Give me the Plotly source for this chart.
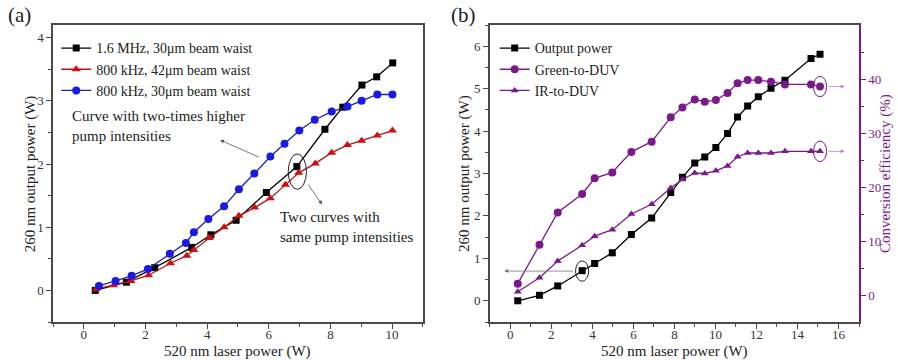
import plotly.graph_objects as go

# ---------------- Panel (a) data ----------------
a_black_x = [0.37, 1.38, 2.30, 3.50, 4.12, 4.94, 5.92, 6.91, 7.82, 8.40, 9.02, 9.50, 10.02]
a_black_y = [0.00, 0.13, 0.36, 0.68, 0.88, 1.11, 1.55, 1.96, 2.55, 2.90, 3.25, 3.38, 3.60]

a_red_x = [0.40, 0.97, 1.53, 2.10, 2.81, 3.34, 3.57, 4.07, 4.55, 5.03, 5.54, 6.05, 6.54,
           6.97, 7.51, 8.04, 8.55, 9.01, 9.52, 10.01]
a_red_y = [0.02, 0.08, 0.15, 0.24, 0.43, 0.55, 0.64, 0.83, 1.00, 1.18, 1.31, 1.46, 1.67,
           1.86, 2.01, 2.18, 2.30, 2.37, 2.45, 2.53]

a_blue_x = [0.49, 1.03, 1.55, 2.08, 2.79, 3.31, 3.57, 4.04, 4.55, 5.03, 5.53, 6.05, 6.51,
            6.99, 7.49, 8.04, 8.55, 9.01, 9.52, 10.01]
a_blue_y = [0.07, 0.15, 0.23, 0.34, 0.58, 0.75, 0.92, 1.13, 1.33, 1.60, 1.85, 2.12, 2.32,
            2.53, 2.70, 2.83, 2.91, 3.00, 3.10, 3.10]

a_names = ["1.6 MHz, 30\u03bcm beam waist", "800 kHz, 42\u03bcm beam waist", "800 kHz, 30\u03bcm beam waist"]

# ---------------- Panel (b) data ----------------
b_x = [0.36, 1.42, 2.31, 3.50, 4.11, 4.97, 5.90, 6.89, 7.82, 8.39, 8.99, 9.48, 10.02, 10.59,
       11.08, 11.57, 12.09, 12.71, 13.39, 14.66, 15.10]
b_power = [0.00, 0.13, 0.35, 0.71, 0.88, 1.13, 1.56, 1.95, 2.55, 2.91, 3.25, 3.39, 3.61, 3.94,
           4.33, 4.59, 4.81, 5.01, 5.20, 5.71, 5.81]
b_green = [2.1, 9.3, 15.3, 18.7, 21.6, 22.7, 26.5, 28.4, 32.9, 34.7, 36.2, 35.8, 36.1, 37.4,
           39.2, 39.8, 39.8, 39.5, 39.0, 39.0, 38.6]
b_ir = [0.6, 3.2, 6.3, 9.2, 10.9, 12.1, 15.0, 16.8, 19.8, 21.4, 22.6, 22.5, 23.0, 23.9,
        25.6, 26.3, 26.3, 26.3, 26.6, 26.6, 26.6]
b_names = ["Output power", "Green-to-DUV", "IR-to-DUV"]

a_xticks = [0, 2, 4, 6, 8, 10]
a_yticks = [0, 1, 2, 3, 4]
b_xticks = [0, 2, 4, 6, 8, 10, 12, 14, 16]
b_yticks = [0, 1, 2, 3, 4, 5, 6]
b_y2ticks = [0, 10, 20, 30, 40]

x_title = "520 nm laser power (W)"
y_title = "260 nm output power (W)"
y2_title = "Conversion efficiency (%)"

FONT = "Liberation Serif"
PURPLE = "#7a1a8a"
LPURPLE = "#b585c4"
FRAME = "#4a4a4a"
RED = "#d01010"
BLUE = "#1a1ae6"

fig = go.Figure()

# Panel (a)
fig.add_trace(go.Scatter(x=a_black_x, y=a_black_y, name=a_names[0], mode="lines+markers",
                         line=dict(color="black", width=1.3),
                         marker=dict(symbol="square", size=7, color="black"),
                         xaxis="x", yaxis="y", legend="legend"))
fig.add_trace(go.Scatter(x=a_red_x, y=a_red_y, name=a_names[1], mode="lines+markers",
                         line=dict(color="#b01818", width=1.3),
                         marker=dict(symbol="triangle-up", size=8, color=RED),
                         xaxis="x", yaxis="y", legend="legend"))
fig.add_trace(go.Scatter(x=a_blue_x, y=a_blue_y, name=a_names[2], mode="lines+markers",
                         line=dict(color="#2020b0", width=1.3),
                         marker=dict(symbol="circle", size=8, color=BLUE),
                         xaxis="x", yaxis="y", legend="legend"))

# Panel (b)
fig.add_trace(go.Scatter(x=b_x, y=b_power, name=b_names[0], mode="lines+markers",
                         line=dict(color="black", width=1.3),
                         marker=dict(symbol="square", size=7, color="black"),
                         xaxis="x2", yaxis="y2", legend="legend2"))
fig.add_trace(go.Scatter(x=b_x, y=b_green, name=b_names[1], mode="lines+markers",
                         line=dict(color=PURPLE, width=1.3),
                         marker=dict(symbol="circle", size=8, color=PURPLE),
                         xaxis="x2", yaxis="y3", legend="legend2"))
fig.add_trace(go.Scatter(x=b_x, y=b_ir, name=b_names[2], mode="lines+markers",
                         line=dict(color=PURPLE, width=1.3),
                         marker=dict(symbol="triangle-up", size=7, color=PURPLE),
                         xaxis="x2", yaxis="y3", legend="legend2"))

tickfont = dict(family=FONT, size=13, color="#333")

common_x = dict(showline=True, linecolor=FRAME, linewidth=1.5, ticks="outside", ticklen=5,
                tickcolor=FRAME, tickwidth=1, showgrid=False, zeroline=False, tickfont=tickfont,
                automargin=False, ticklabelstandoff=-5,
                minor=dict(ticks="outside", ticklen=3, tickcolor=FRAME, dtick=1))

fig.update_layout(
    width=898, height=360,
    margin=dict(l=53, r=39, t=25, b=38),
    paper_bgcolor="white", plot_bgcolor="white",
    font=dict(family=FONT, color="#222"),
    xaxis=dict(domain=[0, 0.459], range=[-1, 11], tickvals=a_xticks, mirror=True,
               anchor="y", **common_x),
    yaxis=dict(domain=[0, 1], range=[-0.5, 4.2], tickvals=a_yticks, mirror=True,
               showline=True, linecolor=FRAME, linewidth=1.5, ticks="outside", ticklen=5,
               tickcolor=FRAME, showgrid=False, zeroline=False, tickfont=tickfont, automargin=False,
               minor=dict(ticks="outside", ticklen=3, tickcolor=FRAME, dtick=0.5),
               anchor="x"),
    xaxis2=dict(domain=[0.542, 1], range=[-1, 17], tickvals=b_xticks, mirror=True,
                anchor="y2", **common_x),
    yaxis2=dict(domain=[0, 1], range=[-0.5, 6.5], tickvals=b_yticks,
                showline=True, linecolor=FRAME, linewidth=1.5, ticks="outside", ticklen=5,
                tickcolor=FRAME, showgrid=False, zeroline=False, tickfont=tickfont, automargin=False,
                minor=dict(ticks="outside", ticklen=3, tickcolor=FRAME, dtick=0.5),
                anchor="x2"),
    yaxis3=dict(range=[-5, 50], tickvals=b_y2ticks, overlaying="y2", side="right", anchor="x2",
                showline=True, linecolor=PURPLE, linewidth=1.5, ticks="outside", ticklen=5,
                tickcolor=PURPLE, showgrid=False, zeroline=False, automargin=False,
                tickfont=dict(family=FONT, size=13, color=PURPLE),
                minor=dict(ticks="outside", ticklen=3, tickcolor=PURPLE, tickvals=[5, 15, 25, 35, 45])),
    legend=dict(x=0.004, y=0.975, xanchor="left", yanchor="top", bgcolor="rgba(0,0,0,0)",
                font=dict(family=FONT, size=14, color="#222"), tracegroupgap=0, itemwidth=30),
    legend2=dict(x=0.548, y=0.975, xanchor="left", yanchor="top", bgcolor="rgba(0,0,0,0)",
                 font=dict(family=FONT, size=14, color="#222"), tracegroupgap=0, itemwidth=30),
    showlegend=True,
)

# Axis titles as text placed at the reference's positions
ttl = dict(family=FONT, size=15, color="#222")
fig.add_annotation(text=x_title, xref="paper", yref="paper", x=0.2295, y=-0.1,
                   showarrow=False, xanchor="center", yanchor="middle", font=ttl)
fig.add_annotation(text=x_title, xref="paper", yref="paper", x=0.771, y=-0.1,
                   showarrow=False, xanchor="center", yanchor="middle", font=ttl)
fig.add_annotation(text=y_title, xref="paper", yref="paper", x=-0.0275, y=0.5, textangle=-90,
                   showarrow=False, xanchor="center", yanchor="middle", font=ttl)
fig.add_annotation(text=y_title, xref="paper", yref="paper", x=0.5105, y=0.5, textangle=-90,
                   showarrow=False, xanchor="center", yanchor="middle", font=ttl)
fig.add_annotation(text=y2_title, xref="paper", yref="paper", x=1.033, y=0.5, textangle=-90,
                   showarrow=False, xanchor="center", yanchor="middle",
                   font=dict(family=FONT, size=15, color=PURPLE))

# Panel labels
fig.add_annotation(text="(a)", xref="paper", yref="paper", x=-0.041, y=1.035, showarrow=False,
                   xanchor="center", yanchor="middle",
                   font=dict(family=FONT, size=21, color="#222"))
fig.add_annotation(text="(b)", xref="paper", yref="paper", x=0.509, y=1.035, showarrow=False,
                   xanchor="center", yanchor="middle",
                   font=dict(family=FONT, size=21, color="#222"))

# Panel (a) annotations
fig.add_annotation(text="Curve with two-times higher<br>pump intensities", xref="x", yref="y",
                   x=-0.45, y=2.6, xanchor="left", yanchor="middle", align="left", showarrow=False,
                   font=dict(family=FONT, size=15, color="#222"))
fig.add_annotation(x=4.42, y=2.38, ax=5.72, ay=2.1, xref="x", yref="y", axref="x", ayref="y",
                   text="", showarrow=True, arrowhead=2, arrowsize=1, arrowwidth=0.8,
                   arrowcolor="#555")
fig.add_annotation(text="Two curves with<br>same pump intensities", xref="x", yref="y",
                   x=6.3, y=1.0, xanchor="left", yanchor="middle", align="left", showarrow=False,
                   font=dict(family=FONT, size=15, color="#222"))
fig.add_annotation(x=7.73, y=1.36, ax=7.24, ay=1.70, xref="x", yref="y", axref="x", ayref="y",
                   text="", showarrow=True, arrowhead=2, arrowsize=1, arrowwidth=0.8,
                   arrowcolor="#555")
fig.add_shape(type="circle", xref="x", yref="y", x0=6.63, x1=7.22, y0=1.6, y1=2.16,
              line=dict(color="#222", width=1))

# Panel (b) annotations
fig.add_shape(type="circle", xref="x2", yref="y2", x0=3.18, x1=3.82, y0=0.46, y1=0.94,
              line=dict(color="#222", width=1))
fig.add_annotation(x=-0.3, y=0.7, ax=3.15, ay=0.7, xref="x2", yref="y2", axref="x2", ayref="y2",
                   text="", showarrow=True, arrowhead=2, arrowsize=1, arrowwidth=0.8,
                   arrowcolor="#777")
fig.add_shape(type="circle", xref="x2", yref="y3", x0=14.78, x1=15.42, y0=36.7, y1=40.5,
              line=dict(color=PURPLE, width=1))
fig.add_shape(type="circle", xref="x2", yref="y3", x0=14.78, x1=15.42, y0=24.7, y1=28.5,
              line=dict(color=PURPLE, width=1))
fig.add_annotation(x=16.3, y=38.6, ax=15.44, ay=38.6, xref="x2", yref="y3", axref="x2", ayref="y3",
                   text="", showarrow=True, arrowhead=2, arrowsize=1, arrowwidth=0.8,
                   arrowcolor=LPURPLE)
fig.add_annotation(x=16.3, y=26.6, ax=15.44, ay=26.6, xref="x2", yref="y3", axref="x2", ayref="y3",
                   text="", showarrow=True, arrowhead=2, arrowsize=1, arrowwidth=0.8,
                   arrowcolor=LPURPLE)

fig.write_html("out.html", config={"displayModeBar": False},
               post_script="document.body.style.margin='0px';document.body.style.overflow='hidden';")
